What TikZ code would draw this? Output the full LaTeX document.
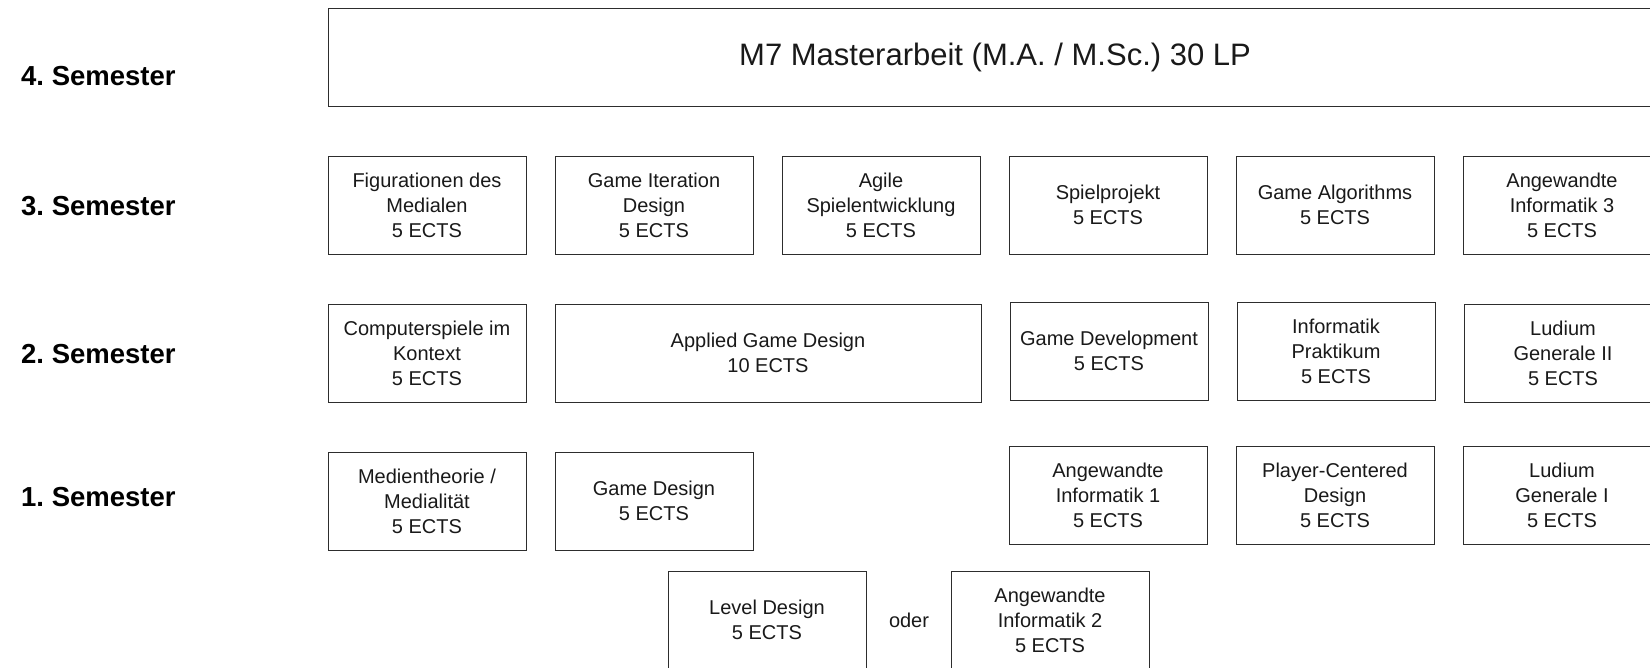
\documentclass[tikz,border=0pt]{standalone}
\usepackage{fontspec}
\setmainfont{Liberation Sans}
\frenchspacing
\definecolor{frame}{RGB}{45, 45, 45}
\definecolor{ink}{RGB}{25, 25, 25}
\usetikzlibrary{positioning}
\tikzset{
  module/.style={
    draw=frame, line width=1pt, rectangle, align=center,
    minimum width=198pt, minimum height=98pt,
    inner sep=0, outer sep=0, text=ink,
    font=\fontsize{20}{25}\selectfont
  },
  semester/.style={anchor=west, inner sep=0, text=black,
    font=\fontsize{27.5}{30}\selectfont\bfseries},
  oderlabel/.style={inner sep=0, outer sep=0, text=ink,
    font=\fontsize{20}{25}\selectfont}
}

\begin{document}
\begin{tikzpicture}[x=1pt, y=-1pt, node distance=29pt]
  \useasboundingbox (0,0) rectangle (1650,667);

  \node[semester] (sem4) at (21,76) {4. Semester};
  \node[semester] (sem3) at (21,206) {3. Semester};
  \node[semester] (sem2) at (21,354) {2. Semester};
  \node[semester] (sem1) at (21,497) {1. Semester};

  \node[module, minimum width=1334pt, font=\fontsize{31}{36}\selectfont]
    (thesis) at (995,57) {M7 Masterarbeit (M.A. / M.Sc.) 30 LP};

  % 3. Semester
  \node[module] (figur) at (427,205) {Figurationen des\\Medialen\\5 ECTS};
  \node[module, right=of figur] (iteration) {Game Iteration\\Design\\5 ECTS};
  \node[module, right=of iteration] (agile) {Agile\\Spielentwicklung\\5 ECTS};
  \node[module, right=of agile] (projekt) {Spielprojekt\\5 ECTS};
  \node[module, right=of projekt] (algo) {Game Algorithms\\5 ECTS};
  \node[module, right=of algo] (info3) {Angewandte\\Informatik 3\\5 ECTS};

  % 2. Semester
  \node[module] (kontext) at (427,353) {Computerspiele im\\Kontext\\5 ECTS};
  \node[module, right=of kontext, minimum width=426pt] (applied)
    {Applied Game Design\\10 ECTS};
  \node[module, right=of applied, yshift=2pt] (devel) {Game Development\\5 ECTS};
  \node[module, right=of devel] (prakt) {Informatik\\Praktikum\\5 ECTS};
  \node[module, right=of prakt, yshift=-2pt] (ludium2) {Ludium\\Generale II\\5 ECTS};

  % 1. Semester
  \node[module] (medien) at (427,501) {Medientheorie /\\Medialit\"at\\5 ECTS};
  \node[module, right=of medien] (gdesign) {Game Design\\5 ECTS};
  \node[module] (info1) at (1108,495) {Angewandte\\Informatik 1\\5 ECTS};
  \node[module, right=of info1] (player) {Player-Centered\\Design\\5 ECTS};
  \node[module, right=of player] (ludium1) {Ludium\\Generale I\\5 ECTS};

  \node[module] (level) at (767,620) {Level Design\\5 ECTS};
  \node[oderlabel, right=23pt of level] (oder) {oder};
  \node[module, right=22pt of oder] (info2) {Angewandte\\Informatik 2\\5 ECTS};
\end{tikzpicture}
\end{document}
